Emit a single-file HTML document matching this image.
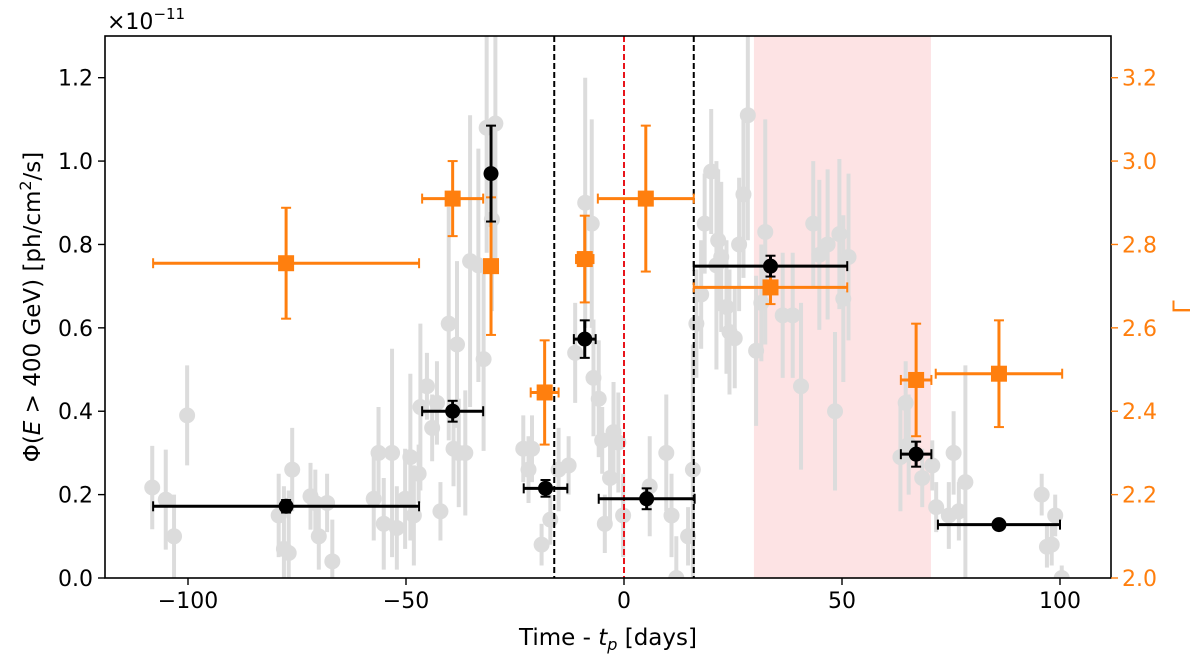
<!DOCTYPE html>
<html><head><meta charset="utf-8"><style>
body{margin:0;background:#fff}
svg{display:block;font-family:"DejaVu Sans","Liberation Sans",sans-serif}
</style></head><body>
<svg id="chart" width="1200" height="661" viewBox="0 0 1200 661" xmlns="http://www.w3.org/2000/svg">
<g id="plot"></g>
</svg>
<script>
const grayT=[-108.2,-105.1,-103.2,-100.2,-79.2,-78.0,-76.9,-76.1,-71.9,-70.8,-68.1,-70.0,-66.9,-57.4,-56.3,-55.1,-53.2,-52.1,-50.2,-49.0,-48.2,-47.1,-46.7,-45.2,-44.0,-42.9,-42.1,-40.2,-39.1,-38.3,-37.9,-36.4,-35.3,-33.4,-32.2,-31.5,-30.3,-29.5,-23.1,-21.9,-21.1,-18.9,-16.9,-15.0,-12.7,-11.2,-8.9,-7.4,-7.0,-5.8,-5.0,-4.4,-3.2,-2.4,-1.3,-0.2,5.9,9.7,10.9,12.0,14.7,15.8,16.6,17.7,18.5,20.0,21.2,21.6,22.3,23.5,24.2,25.4,26.4,27.4,28.4,30.3,31.5,32.4,36.4,38.7,40.6,43.4,44.8,46.7,48.4,49.4,50.3,51.5,63.4,64.6,65.3,68.4,70.7,71.6,74.5,75.6,76.8,78.3,95.8,97.0,98.1,98.9,100.4];
const grayF=[0.217,0.188,0.10,0.39,0.15,0.07,0.06,0.26,0.196,0.18,0.18,0.10,0.04,0.19,0.30,0.13,0.30,0.12,0.19,0.29,0.15,0.25,0.41,0.46,0.36,0.42,0.16,0.61,0.31,0.56,0.30,0.30,0.76,0.75,0.525,1.08,0.86,1.09,0.31,0.26,0.31,0.08,0.14,0.26,0.27,0.54,0.90,0.85,0.48,0.43,0.33,0.13,0.24,0.35,0.325,0.15,0.22,0.30,0.15,0.0,0.10,0.26,0.61,0.68,0.85,0.975,0.75,0.81,0.77,0.65,0.59,0.575,0.80,0.92,1.11,0.545,0.66,0.83,0.63,0.63,0.46,0.85,0.775,0.80,0.40,0.825,0.67,0.77,0.29,0.42,0.32,0.24,0.27,0.17,0.15,0.30,0.16,0.23,0.20,0.075,0.08,0.15,0.0];
const grayE=[0.1,0.12,0.1,0.12,0.1,0.15,0.15,0.1,0.08,0.08,0.07,0.08,0.1,0.1,0.11,0.11,0.25,0.1,0.12,0.2,0.12,0.07,0.2,0.08,0.08,0.1,0.07,0.28,0.09,0.2,0.13,0.15,0.35,0.28,0.22,0.3,0.22,0.35,0.08,0.08,0.08,0.05,0.06,0.1,0.07,0.12,0.3,0.25,0.14,0.14,0.08,0.07,0.11,0.12,0.12,0.1,0.12,0.14,0.1,0.1,0.07,0.3,0.13,0.13,0.12,0.15,0.25,0.17,0.18,0.16,0.15,0.12,0.16,0.2,0.3,0.18,0.14,0.27,0.15,0.15,0.2,0.15,0.18,0.18,0.19,0.18,0.2,0.2,0.13,0.1,0.12,0.07,0.06,0.06,0.08,0.1,0.07,0.28,0.05,0.05,0.05,0.05,0.03];
const binT=[-77.5,-39.3,-30.5,-18,-9,5.2,33.6,67,86];
const binTErr=[30.5,7,0.5,5,2.5,11,17.6,3.5,14];
const binF=[0.172,0.40,0.97,0.215,0.573,0.19,0.748,0.297,0.128];
const binFErr=[0.015,0.025,0.115,0.02,0.045,0.025,0.025,0.03,0.01];
const gamT=[-77.5,-39.3,-30.5,-18.2,-9,5,33.6,67,86];
const gamTErr=[30.5,7,0,3.2,2,11,17.6,3.5,14.5];
const gamV=[2.755,2.91,2.748,2.445,2.765,2.91,2.697,2.475,2.49];
const gamVErr=[0.133,0.09,0.165,0.125,0.104,0.175,0.04,0.135,0.128];
const xTicks=[-100,-50,0,50,100];
const xTickLabels=["−100","−50","0","50","100"];
const yTicks=[0,0.2,0.4,0.6,0.8,1.0,1.2];
const yTickLabels=["0.0","0.2","0.4","0.6","0.8","1.0","1.2"];
const gTicks=[2.0,2.2,2.4,2.6,2.8,3.0,3.2];
const gTickLabels=["2.0","2.2","2.4","2.6","2.8","3.0","3.2"];
const L=105,R=1111,T=36,B=578;
const X=t=>624+t*4.36;
const Y=v=>B-(v/1.3)*(B-T);
const G=g=>B-((g-2)/1.3)*(B-T);
const NS="http://www.w3.org/2000/svg";
const root=document.getElementById('plot');
function mk(tag,attrs,parent){const e=document.createElementNS(NS,tag);for(const k in attrs)e.setAttribute(k,attrs[k]);(parent||root).appendChild(e);return e;}
const defs=mk('defs',{});const cp=mk('clipPath',{id:'clip'},defs);mk('rect',{x:L,y:T,width:R-L,height:B-T},cp);
const area=mk('g',{'clip-path':'url(#clip)'});
let e=mk('rect',{x:X(29.8),y:T,width:X(70.4)-X(29.8),height:B-T,fill:'#fde3e4'},area);


for(let i=0;i<grayT.length;i++){
 const g=mk('g',{},area);
 
 
 mk('line',{x1:X(grayT[i]),x2:X(grayT[i]),y1:Y(grayF[i]-grayE[i]),y2:Y(grayF[i]+grayE[i]),stroke:'#dcdcdc','stroke-width':4},g);
 mk('circle',{cx:X(grayT[i]),cy:Y(grayF[i]),r:8,fill:'#dcdcdc'},g);
}
[[-16,'#000'],[0,'#e8141b'],[16,'#000']].forEach(([t,c])=>{
 e=mk('line',{x1:X(t),x2:X(t),y1:T,y2:B,stroke:c,'stroke-width':2,'stroke-dasharray':'6,3'},area);
 
 
});
function errbar(g,x1,x2,y1,y2,c,w){mk('line',{x1,x2,y1,y2,stroke:c,'stroke-width':w},g);}
for(let i=0;i<gamT.length;i++){
 const g=mk('g',{},area);
 
 
 const c='#ff7f0e',x=X(gamT[i]),y=G(gamV[i]);
 const xa=X(gamT[i]-gamTErr[i]),xb=X(gamT[i]+gamTErr[i]),ya=G(gamV[i]-gamVErr[i]),yb=G(gamV[i]+gamVErr[i]);
 errbar(g,xa,xb,y,y,c,3);errbar(g,x,x,ya,yb,c,3);
 if(gamTErr[i]>0){errbar(g,xa,xa,y-5,y+5,c,2);errbar(g,xb,xb,y-5,y+5,c,2);}
 errbar(g,x-5,x+5,ya,ya,c,2);errbar(g,x-5,x+5,yb,yb,c,2);
 mk('rect',{x:x-8,y:y-8,width:16,height:16,fill:c},g);
}
for(let i=0;i<binT.length;i++){
 const g=mk('g',{},area);
 
 
 const c='#000',x=X(binT[i]),y=Y(binF[i]);
 const xa=X(binT[i]-binTErr[i]),xb=X(binT[i]+binTErr[i]),ya=Y(binF[i]-binFErr[i]),yb=Y(binF[i]+binFErr[i]);
 errbar(g,xa,xb,y,y,c,3);errbar(g,x,x,ya,yb,c,3);
 errbar(g,xa,xa,y-5,y+5,c,2);errbar(g,xb,xb,y-5,y+5,c,2);
 errbar(g,x-5,x+5,ya,ya,c,2);errbar(g,x-5,x+5,yb,yb,c,2);
 mk('circle',{cx:x,cy:y,r:7.5,fill:c},g);
}
e=mk('rect',{x:L,y:T,width:R-L,height:B-T,fill:'none',stroke:'#000','stroke-width':1.6});


xTicks.forEach((t,i)=>{
 mk('line',{x1:X(t),x2:X(t),y1:B,y2:B+7,stroke:'#000','stroke-width':1.4});
 e=mk('text',{x:X(t),y:B+30,'text-anchor':'middle','font-size':22});
 e.textContent=xTickLabels[i];
 
 
});
yTicks.forEach((v,i)=>{
 mk('line',{x1:L-7,x2:L,y1:Y(v),y2:Y(v),stroke:'#000','stroke-width':1.4});
 e=mk('text',{x:L-12,y:Y(v)+8,'text-anchor':'end','font-size':22});
 e.textContent=yTickLabels[i];
 
 
});
gTicks.forEach((v,i)=>{
 mk('line',{x1:R,x2:R+7,y1:G(v),y2:G(v),stroke:'#ff7f0e','stroke-width':1.4});
 e=mk('text',{x:R+11,y:G(v)+8,'text-anchor':'start','font-size':22,fill:'#ff7f0e'});
 e.textContent=gTickLabels[i];
 
 
});
</script>
<svg style="position:absolute;left:0;top:0" width="1200" height="661" xmlns="http://www.w3.org/2000/svg" font-family="DejaVu Sans, Liberation Sans, sans-serif">
<text x="107" y="29" font-size="22">×10<tspan font-size="15" dy="-10">−11</tspan></text>
<text x="608" y="645" text-anchor="middle" font-size="23">Time - <tspan font-style="italic">t</tspan><tspan font-size="16" font-style="italic" dy="5">p</tspan><tspan dy="-5"> [days]</tspan></text>
<text transform="translate(40,307) rotate(-90)" text-anchor="middle" font-size="23">Φ(<tspan font-style="italic">E</tspan> &gt; 400 GeV) [ph/cm<tspan font-size="16" dy="-9">2</tspan><tspan dy="9">/s]</tspan></text>
<text transform="translate(1190,307) rotate(-90)" text-anchor="middle" font-size="24" fill="#ff7f0e">Γ</text>
</svg>
</body></html>
